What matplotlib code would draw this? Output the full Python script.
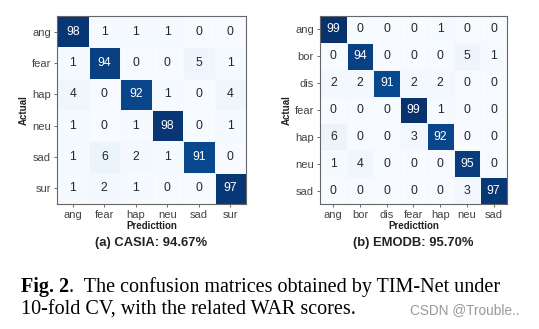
import numpy as np
import matplotlib
matplotlib.use('Agg')
import matplotlib.pyplot as plt

# CASIA confusion matrix (%)
casia_labels = ['ang', 'fear', 'hap', 'neu', 'sad', 'sur']
casia_cm = [[98, 1, 1, 1, 0, 0],
            [1, 94, 0, 0, 5, 1],
            [4, 0, 92, 1, 0, 4],
            [1, 0, 1, 98, 0, 1],
            [1, 6, 2, 1, 91, 0],
            [1, 2, 1, 0, 0, 97]]
casia_title = '(a) CASIA: 94.67%'

# EMODB confusion matrix (%)
emodb_labels = ['ang', 'bor', 'dis', 'fear', 'hap', 'neu', 'sad']
emodb_cm = [[99, 0, 0, 0, 1, 0, 0],
            [0, 94, 0, 0, 0, 5, 1],
            [2, 2, 91, 2, 2, 0, 0],
            [0, 0, 0, 99, 1, 0, 0],
            [6, 0, 0, 3, 92, 0, 0],
            [1, 4, 0, 0, 0, 95, 0],
            [0, 0, 0, 0, 0, 3, 97]]
emodb_title = '(b) EMODB: 95.70%'

caption_1 = 'The confusion matrices obtained by TIM-Net under'
caption_2 = '10-fold CV, with the related WAR scores.'

SANS = 'Liberation Sans'
SERIF = 'Liberation Serif'


def Plot_CM(ax, cm, labels, title):
    cm = np.array(cm)
    n = len(labels)
    ax.pcolormesh(cm, cmap='Blues', vmin=0, vmax=100,
                  edgecolors='#f4f8fc', linewidth=0.4)
    ax.set_xlim(0, n)
    ax.set_ylim(n, 0)
    for i in range(n):
        for j in range(n):
            c = 'white' if cm[i, j] > 50 else '#262626'
            ax.text(j + 0.5, i + 0.5, str(cm[i, j]), ha='center', va='center',
                    fontsize=8.8, color=c, family=SANS)
    ax.set_xticks(np.arange(n) + 0.5)
    ax.set_yticks(np.arange(n) + 0.5)
    ax.set_xticklabels(labels, fontsize=8, color='#444444', family=SANS)
    ax.set_yticklabels(labels, fontsize=8, color='#444444', family=SANS)
    ax.tick_params(length=2.5, width=0.6, color='#555555', pad=2)
    for s in ax.spines.values():
        s.set_color('#666666')
        s.set_linewidth(0.8)
    ax.set_xlabel('Predicttion', fontsize=7, fontweight='bold',
                  family=SANS, color='#222222', labelpad=0.5)
    ax.set_ylabel('Actual', fontsize=7, fontweight='bold',
                  family=SANS, color='#222222')
    ax.yaxis.set_label_coords(-0.15, 0.5)
    ax.text(0.5, -0.205, title, transform=ax.transAxes, ha='center', va='center',
            fontsize=9.4, fontweight='bold', family=SANS, color='#222222')


fig = plt.figure(figsize=(5.39, 3.29), dpi=100)
ax1 = fig.add_axes([0.1058, 0.3799, 0.3506, 0.5714])
ax2 = fig.add_axes([0.5937, 0.3799, 0.3469, 0.5714])
Plot_CM(ax1, casia_cm, casia_labels, casia_title)
Plot_CM(ax2, emodb_cm, emodb_labels, emodb_title)

y1 = 1 - 292 / 329
y2 = 1 - 315 / 329
t = fig.text(21 / 539, y1, 'Fig. 2', fontsize=14.5, fontweight='bold',
             family=SERIF, va='baseline')
r = fig.canvas.get_renderer()
bb = t.get_window_extent(renderer=r)
fig.text(bb.x1 / fig.bbox.width, y1, '.  ' + caption_1, fontsize=14.5,
         family=SERIF, va='baseline')
fig.text(21 / 539, y2, caption_2, fontsize=14.5, family=SERIF, va='baseline')
fig.text(520 / 539, 1 - 310 / 329, 'CSDN @Trouble..', fontsize=9.8, color='#999999',
         family=SANS, ha='right', va='center')

fig.savefig('out.png', dpi=100)
